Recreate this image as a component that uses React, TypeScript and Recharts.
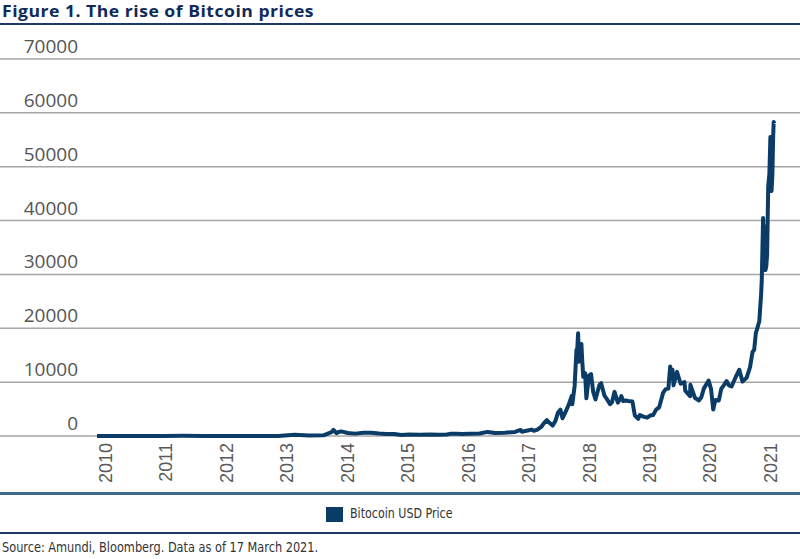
import { LineChart, Line, XAxis, YAxis, CartesianGrid } from 'recharts'

// Bitcoin close (USD)
const dates = [
	'2010-01-01', '2010-07-17', '2011-02-09', '2011-06-08', '2011-10-01', '2012-01-01', '2012-08-17', '2013-01-01',
	'2013-04-09', '2013-07-05', '2013-10-01', '2013-11-18', '2013-11-30', '2013-12-18', '2013-12-31',
	'2014-01-15', '2014-02-25', '2014-04-10', '2014-05-30', '2014-07-15', '2014-09-01', '2014-10-15', '2014-12-01',
	'2015-01-14', '2015-03-01', '2015-05-01', '2015-07-10', '2015-08-25', '2015-10-15', '2015-11-04', '2015-12-15',
	'2016-01-15', '2016-03-01', '2016-05-01', '2016-06-17', '2016-08-02', '2016-10-01', '2016-12-01',
	'2017-01-04', '2017-01-12', '2017-02-15', '2017-03-10', '2017-03-25', '2017-04-15', '2017-05-10', '2017-05-25',
	'2017-06-11', '2017-06-25', '2017-07-16', '2017-08-01', '2017-08-17', '2017-09-01', '2017-09-14', '2017-10-01',
	'2017-10-20', '2017-11-08', '2017-11-12', '2017-11-26', '2017-12-07', '2017-12-10', '2017-12-17', '2017-12-22',
	'2017-12-28',
	'2018-01-06', '2018-01-10', '2018-01-17', '2018-01-28', '2018-02-05', '2018-02-20', '2018-03-05', '2018-03-18',
	'2018-04-01', '2018-04-25', '2018-05-05', '2018-05-25', '2018-06-10', '2018-06-28', '2018-07-10', '2018-07-25',
	'2018-08-14', '2018-08-30', '2018-09-04', '2018-09-15', '2018-10-01', '2018-10-15', '2018-11-10', '2018-11-20',
	'2018-11-25', '2018-12-15', '2018-12-25',
	'2019-01-15', '2019-02-07', '2019-02-25', '2019-03-15', '2019-04-02', '2019-04-20', '2019-05-14', '2019-05-30',
	'2019-06-15', '2019-06-26', '2019-07-05', '2019-07-10', '2019-07-16', '2019-08-06', '2019-08-28', '2019-09-20',
	'2019-09-25', '2019-10-24', '2019-10-26', '2019-11-22', '2019-12-17', '2019-12-31',
	'2020-01-15', '2020-02-13', '2020-02-28', '2020-03-12', '2020-03-25', '2020-04-15', '2020-04-30', '2020-05-15',
	'2020-06-01', '2020-06-15', '2020-07-01', '2020-07-27', '2020-08-17', '2020-09-05', '2020-09-30', '2020-10-21',
	'2020-11-05', '2020-11-15', '2020-11-25', '2020-12-01', '2020-12-16', '2020-12-27', '2020-12-31',
	'2021-01-08', '2021-01-11', '2021-01-14', '2021-01-22', '2021-01-27', '2021-02-01', '2021-02-08', '2021-02-15',
	'2021-02-21', '2021-02-28', '2021-03-05', '2021-03-10', '2021-03-13', '2021-03-17',
]
const prices = [
	0.1, 0.08, 1, 30, 5, 5, 13, 13,
	230, 90, 125, 700, 1130, 520, 750,
	850, 560, 440, 620, 620, 480, 390, 380,
	180, 260, 235, 290, 210, 270, 400, 440,
	380, 430, 450, 760, 540, 610, 750,
	1130, 800, 1010, 1190, 960, 1190, 1760, 2400,
	2960, 2500, 1930, 2730, 4300, 4900, 3300, 4400,
	5700, 7400, 5900, 9300, 16000, 15000, 19100, 13800,
	14500,
	17100, 14500, 11000, 11700, 7000, 11200, 11500, 8200,
	6800, 9500, 9800, 7500, 6800, 5900, 6300, 8200,
	6200, 7000, 7400, 6500, 6600, 6500, 6400, 4600,
	3800, 3200, 3900,
	3600, 3400, 3800, 3900, 4900, 5300, 8000, 8700,
	8800, 12900, 11000, 12300, 9400, 11900, 9700, 10000,
	8400, 7400, 9500, 7100, 6600, 7200,
	8800, 10300, 8700, 4900, 6700, 6600, 8800, 9400,
	10200, 9400, 9200, 11000, 12300, 10100, 10800, 12800,
	15600, 16000, 19100, 19700, 21300, 26300, 29000,
	40500, 34000, 39000, 30800, 31500, 33500, 46400, 48700,
	55500, 45500, 48500, 55900, 58300, 58000,
]
const yearTicks = [2010, 2011, 2012, 2013, 2014, 2015, 2016, 2017, 2018, 2019, 2020, 2021]
const priceTicks = [0, 10000, 20000, 30000, 40000, 50000, 60000, 70000]
const seriesName = 'Bitocoin USD Price'

const toYear = (d: string) => {
	const t = new Date(d + 'T00:00:00Z').getTime()
	const y = Number(d.slice(0, 4))
	const start = Date.UTC(y, 0, 1)
	const end = Date.UTC(y + 1, 0, 1)
	return y + (t - start) / (end - start)
}

const data = dates.map((d, i) => ({ t: toYear(d), price: prices[i] }))

const NAVY = '#0b3c68'
const NARROW = "'Liberation Sans Narrow', 'DejaVu Sans Condensed', 'Roboto', sans-serif"

const XTick = (props: any) => {
	const { x, payload } = props
	return (
		<text transform={`translate(${x + 15},443) rotate(-90)`} textAnchor="end"
			fontFamily="Liberation Sans" fontSize={18} fill="#595959">
			{payload.value}
		</text>
	)
}

const YTick = (props: any) => {
	const { y, payload } = props
	return (
		<text x={78} y={y - 6} textAnchor="end" fontFamily="Open Sans" fontSize={19} fill="#555">
			{payload.value}
		</text>
	)
}

export default function App() {
	return (
		<div style={{ position: 'absolute', left: 0, top: 0, width: 800, height: 559, background: '#fff', overflow: 'hidden' }}>
			<div style={{ position: 'absolute', left: 2, top: 0, lineHeight: '22px', fontFamily: 'Open Sans', fontWeight: 700, fontSize: 16, letterSpacing: 0.45, color: '#0f2a5a', whiteSpace: 'nowrap', transform: 'scaleX(1.1)', transformOrigin: 'left top' }}>
				Figure 1. The rise of Bitcoin prices
			</div>
			<div style={{ position: 'absolute', left: 0, top: 23, width: 800, height: 2, background: '#1e3a64' }} />
			<div style={{ position: 'absolute', left: 0, top: 0 }}>
				<LineChart width={800} height={559} data={data} margin={{ top: 59, right: 0, bottom: 63, left: 0 }}>
					<CartesianGrid vertical={false} stroke="#a6a6a6" strokeWidth={1.5} />
					<XAxis dataKey="t" type="number" domain={[2008.3954, 2021.6296]} ticks={yearTicks}
						allowDataOverflow axisLine={false} tickLine={false} height={60} tick={<XTick />} interval={0} />
					<YAxis type="number" domain={[0, 70000]} ticks={priceTicks} width={80} mirror
						axisLine={false} tickLine={false} tick={<YTick />} interval={0} />
					<Line type="linear" dataKey="price" name={seriesName} stroke={NAVY} strokeWidth={4}
						dot={false} isAnimationActive={false} strokeLinejoin="round" />
				</LineChart>
			</div>
			<div style={{ position: 'absolute', left: 0, top: 492, width: 800, height: 2.5, background: '#3d6a8c' }} />
			<div style={{ position: 'absolute', left: 326, top: 507, width: 17, height: 15, background: NAVY }} />
			<div style={{ position: 'absolute', left: 350, top: 505, fontFamily: NARROW, fontSize: 14, color: '#333', whiteSpace: 'nowrap', transform: 'scaleX(0.88)', transformOrigin: 'left top' }}>
				{seriesName}
			</div>
			<div style={{ position: 'absolute', left: 0, top: 532, width: 800, height: 1.5, background: '#1e3a64' }} />
			<div style={{ position: 'absolute', left: 2, top: 539, fontFamily: NARROW, fontSize: 14, color: '#333', whiteSpace: 'nowrap', transform: 'scaleX(0.9)', transformOrigin: 'left top' }}>
				Source: Amundi, Bloomberg. Data as of 17 March 2021.
			</div>
		</div>
	)
}
